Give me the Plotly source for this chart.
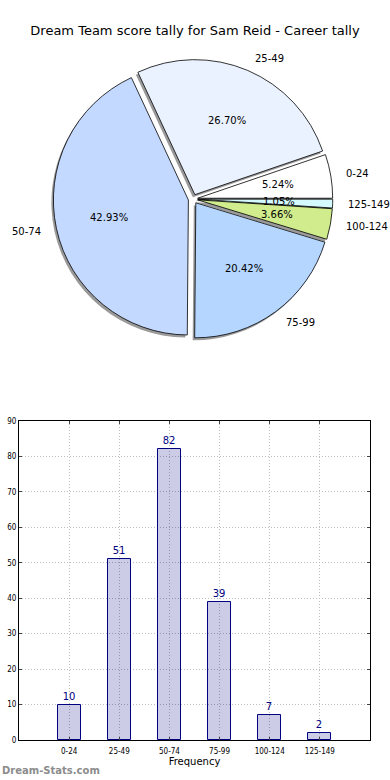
import math
import plotly.graph_objects as go

# ---- data ----
categories = ["0-24", "25-49", "50-74", "75-99", "100-124", "125-149"]
counts = [10, 51, 82, 39, 7, 2]
y_ticks = [0, 10, 20, 30, 40, 50, 60, 70, 80, 90]
title_text = "Dream Team score tally for Sam Reid - Career tally"

# ---- style ----
W, H = 390, 780
pie_colors = ["#ffffff", "#ebf2ff", "#c4d9ff", "#b5d6ff", "#d0ec8c", "#d4faff"]
pull = 0.035
R = 135.0                 # pie radius in px
CX, CY = 193.0, 199.0     # pie centre in px (from top-left)
half_box = R * (1 + pull)
FONT = "DejaVu Sans"
COND = "DejaVu Sans Condensed, Liberation Sans Narrow, DejaVu Sans"

total = sum(counts)
# first slice must start at 3 o'clock and run counter-clockwise
rotation = 90 - 360 * counts[0] / total

def px_to_paper(x, y):
    return x / W, 1 - y / H

fig = go.Figure()

# shadow pie
sx, sy = -2.0, 2.5
fig.add_trace(go.Pie(
    labels=categories, values=counts, sort=False, direction="counterclockwise",
    rotation=rotation, pull=[pull] * len(counts), textinfo="none", hoverinfo="skip",
    marker=dict(colors=["#9a9a9a"] * len(counts), line=dict(width=0)),
    domain=dict(x=[(CX + sx - half_box) / W, (CX + sx + half_box) / W],
                y=[1 - (CY + sy + half_box) / H, 1 - (CY + sy - half_box) / H]),
    showlegend=False,
))
# main pie
fig.add_trace(go.Pie(
    labels=categories, values=counts, sort=False, direction="counterclockwise",
    rotation=rotation, pull=[pull] * len(counts), textinfo="none",
    marker=dict(colors=pie_colors, line=dict(color="black", width=0.8)),
    domain=dict(x=[(CX - half_box) / W, (CX + half_box) / W],
                y=[1 - (CY + half_box) / H, 1 - (CY - half_box) / H]),
    showlegend=False,
))

# pie labels (matplotlib style: pct at 0.6 r, labels at 1.1 r)
cum = 0.0
annotations = []
for lab, v in zip(categories, counts):
    frac = v / total
    theta = math.radians(360 * (cum + frac / 2))
    cum += frac
    c, s = math.cos(theta), math.sin(theta)
    d = pull + 0.6
    x, y = px_to_paper(CX + d * R * c, CY - d * R * s)
    annotations.append(dict(x=x, y=y, xref="paper", yref="paper",
                            text=f"{100 * frac:.2f}%", showarrow=False,
                            xanchor="center", yanchor="middle",
                            font=dict(family=FONT, size=10, color="black")))
    d = pull + 1.1
    x, y = px_to_paper(CX + d * R * c, CY - d * R * s)
    annotations.append(dict(x=x, y=y, xref="paper", yref="paper",
                            text=lab, showarrow=False,
                            xanchor="left" if c > 0 else "right", yanchor="middle",
                            font=dict(family=FONT, size=10, color="black")))

# bar chart
fig.add_trace(go.Bar(
    x=list(range(len(categories))), y=counts, width=0.46,
    marker=dict(color="rgba(0,0,128,0.2)", line=dict(color="#000080", width=1)),
    text=[str(v) for v in counts], textposition="outside",
    textfont=dict(family=FONT, size=10, color="#000080"),
    cliponaxis=False, xaxis="x", yaxis="y", showlegend=False,
))

annotations.append(dict(x=0.0, y=1 - 770 / H, xref="paper", yref="paper",
                        text="<b>Dream-Stats.com</b>", showarrow=False,
                        xanchor="left", yanchor="middle",
                        font=dict(family=FONT, size=10, color="#8c8c8c")))

grid = dict(showgrid=True, gridcolor="#bdbdbd", griddash="1px,2px", gridwidth=1)

fig.update_layout(
    width=W, height=H, margin=dict(l=0, r=0, t=0, b=0, autoexpand=False),
    paper_bgcolor="white", plot_bgcolor="white",
    title=dict(text=title_text, x=0.5, xanchor="center", y=1 - 30 / H,
               yanchor="middle", automargin=False,
               font=dict(family=FONT, size=13, color="black")),
    annotations=annotations,
    xaxis=dict(domain=[19 / W, 370 / W], range=[-1, 6], automargin=False,
               tickmode="array", tickvals=list(range(len(categories))),
               ticktext=categories, ticks="inside", ticklen=3,
               showline=True, linecolor="black", linewidth=1, mirror="ticks",
               zeroline=False, tickfont=dict(family=COND, size=8, color="black"),
               ticklabelstandoff=3,
               title=dict(text="Frequency", standoff=2,
                          font=dict(family=FONT, size=10, color="black")),
               anchor="y", **grid),
    yaxis=dict(domain=[1 - 740 / H, 1 - 421 / H], range=[0, 90], automargin=False,
               tickmode="array", tickvals=y_ticks, ticks="inside", ticklen=3,
               showline=True, linecolor="black", linewidth=1, mirror="ticks",
               zeroline=False, tickfont=dict(family=COND, size=8, color="black"),
               anchor="x", **grid),
    bargap=0,
)

fig.write_html("out.html", config={"displayModeBar": False},
               post_script="document.body.style.margin='0';")
